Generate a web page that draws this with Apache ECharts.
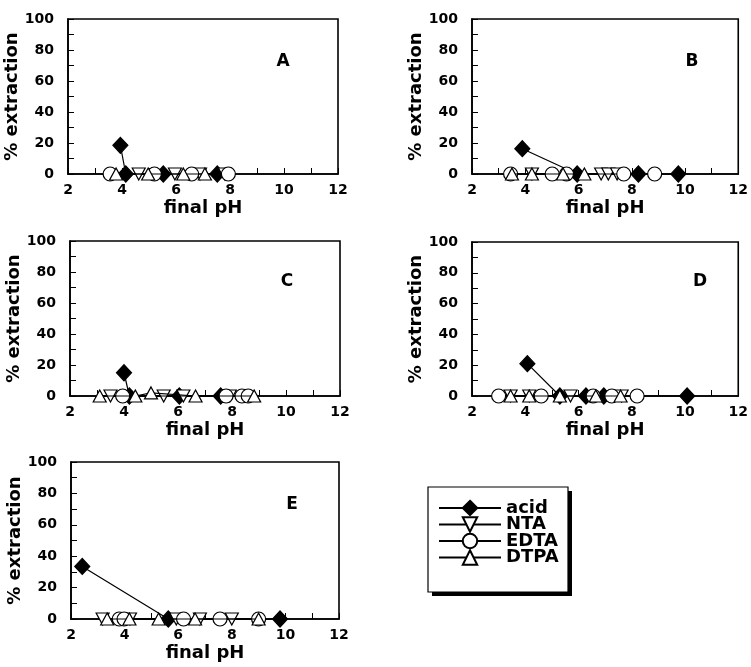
<!DOCTYPE html>
<html>
<head>
<meta charset="utf-8">
<script src="https://cdn.jsdelivr.net/npm/echarts@6/dist/echarts.min.js"></script>
<style>
html,body{margin:0;padding:0;background:#fff;}
#chart{width:751px;height:667px;}
</style>
</head>
<body>
<div id="chart"></div>
<script>
// ---- data (final pH, % extraction) ----
const panelLabels = ['A', 'B', 'C', 'D', 'E'];
const seriesNames = ['acid', 'NTA', 'EDTA', 'DTPA'];
const xTickMin = 2, xTickMax = 12, xTickStep = 2;
const yTickMin = 0, yTickMax = 100, yTickStep = 20;
const xAxisName = 'final pH';
const yAxisName = '% extraction';

const A_acid = [[3.94, 18.5], [4.14, 0], [5.53, 0], [7.53, 0]];
const A_NTA  = [[4.62, 0], [5.96, 0], [6.89, 0], [7.81, 0]];
const A_EDTA = [[3.56, 0], [5.2, 0], [6.58, 0], [7.94, 0]];
const A_DTPA = [[3.78, 0], [4.97, 0], [6.27, 0], [7.07, 0]];

const B_acid = [[3.89, 16.3], [5.95, 0], [8.25, 0], [9.75, 0]];
const B_NTA  = [[4.25, 0], [6.85, 0], [7.12, 0], [7.45, 0]];
const B_EDTA = [[3.45, 0], [5.01, 0], [5.55, 0], [7.7, 0], [8.86, 0]];
const B_DTPA = [[3.5, 0], [4.25, 0], [5.42, 0], [6.22, 0]];

const C_acid = [[4.0, 15], [4.2, 0], [6.05, 0], [7.58, 0]];
const C_NTA  = [[3.5, 0], [5.47, 0], [6.2, 0], [7.92, 0]];
const C_EDTA = [[3.95, 0], [7.78, 0], [8.37, 0], [8.6, 0]];
const C_DTPA = [[3.1, 0], [4.42, 0], [5.0, 2], [6.65, 0], [8.82, 0]];

const D_acid = [[4.08, 21], [5.3, 0], [6.28, 0], [6.95, 0], [10.08, 0]];
const D_NTA  = [[3.45, 0], [4.15, 0], [5.7, 0], [7.62, 0]];
const D_EDTA = [[3.0, 0], [4.6, 0], [6.55, 0], [7.25, 0], [8.2, 0]];
const D_DTPA = [[3.45, 0], [4.15, 0], [5.3, 0], [6.65, 0], [7.58, 0]];

const E_acid = [[2.42, 33.5], [5.63, 0], [9.8, 0]];
const E_NTA  = [[3.18, 0], [4.2, 0], [5.93, 0], [6.81, 0], [8.0, 0]];
const E_EDTA = [[3.8, 0], [3.98, 0], [6.2, 0], [7.56, 0], [9.0, 0]];
const E_DTPA = [[3.35, 0], [4.18, 0], [5.27, 0], [6.63, 0], [9.0, 0]];

const panelData = [
  [A_acid, A_NTA, A_EDTA, A_DTPA],
  [B_acid, B_NTA, B_EDTA, B_DTPA],
  [C_acid, C_NTA, C_EDTA, C_DTPA],
  [D_acid, D_NTA, D_EDTA, D_DTPA],
  [E_acid, E_NTA, E_EDTA, E_DTPA]
];

// ---- layout / style ----
const FONT = 'DejaVu Sans';
const grids = [
  {left: 68,  top: 19,  width: 270, height: 155},
  {left: 472, top: 19,  width: 269, height: 155},
  {left: 70,  top: 241, width: 270, height: 155},
  {left: 472, top: 242, width: 269, height: 154},
  {left: 71,  top: 462, width: 268, height: 157}
];
const letterPos = [[283, 62], [692, 62], [287, 282], [700, 282], [292, 505]];
const legendBox = {x: 428, y: 487, w: 140, h: 105};

const symbolStyles = {
  acid: {symbol: 'diamond', symbolSize: [15, 16], symbolRotate: 0, fill: '#000'},
  NTA:  {symbol: 'triangle', symbolSize: [13, 12], symbolRotate: 180, fill: '#fff'},
  EDTA: {symbol: 'circle', symbolSize: 14, symbolRotate: 0, fill: '#fff'},
  DTPA: {symbol: 'triangle', symbolSize: [13, 12], symbolRotate: 0, fill: '#fff'}
};

const chart = echarts.init(document.getElementById('chart'), null, {renderer: 'canvas'});

const gridOpts = [], xAxes = [], yAxes = [], series = [];
const graphics = [
  {type: 'rect', z: 0, shape: {x: legendBox.x + 4, y: legendBox.y + 4, width: legendBox.w, height: legendBox.h},
   style: {fill: '#000'}},
  {type: 'rect', z: 1, shape: {x: legendBox.x, y: legendBox.y, width: legendBox.w, height: legendBox.h},
   style: {fill: '#fff', stroke: '#000', lineWidth: 1.2}}
];
grids.forEach((g, i) => {
  gridOpts.push(Object.assign({show: true, borderColor: '#000', borderWidth: 1.6, backgroundColor: 'transparent', containLabel: false}, g));
  xAxes.push({
    type: 'value', gridIndex: i, min: xTickMin, max: xTickMax, interval: xTickStep,
    name: xAxisName, nameLocation: 'middle', nameGap: 25,
    nameTextStyle: {fontFamily: FONT, fontWeight: 'bold', fontSize: 18, color: '#000'},
    axisLine: {show: true, onZero: false, lineStyle: {color: '#000', width: 1.6}},
    axisTick: {show: true, inside: true, length: 6, lineStyle: {color: '#000', width: 1}},
    minorTick: {show: true, splitNumber: 2, length: 6, lineStyle: {color: '#000', width: 1}},
    splitLine: {show: false},
    axisLabel: {fontFamily: FONT, fontWeight: 'bold', fontSize: 14, color: '#000', margin: 9}
  });
  yAxes.push({
    type: 'value', gridIndex: i, min: yTickMin, max: yTickMax, interval: yTickStep,
    name: yAxisName, nameLocation: 'middle', nameGap: 36, nameRotate: 90,
    nameTextStyle: {fontFamily: FONT, fontWeight: 'bold', fontSize: 18, color: '#000'},
    axisLine: {show: true, onZero: false, lineStyle: {color: '#000', width: 1.6}},
    axisTick: {show: true, inside: true, length: 6, lineStyle: {color: '#000', width: 1}},
    minorTick: {show: true, splitNumber: 2, length: 6, lineStyle: {color: '#000', width: 1}},
    splitLine: {show: false},
    axisLabel: {fontFamily: FONT, fontWeight: 'bold', fontSize: 14, color: '#000', margin: 14}
  });
  seriesNames.forEach((name, k) => {
    const st = symbolStyles[name];
    series.push({
      type: 'line', name: name, xAxisIndex: i, yAxisIndex: i,
      data: panelData[i][k],
      symbol: st.symbol, symbolSize: st.symbolSize, symbolRotate: st.symbolRotate,
      showAllSymbol: true, clip: false, animation: false,
      lineStyle: {color: '#000', width: 1.2},
      itemStyle: {color: st.fill, borderColor: '#000', borderWidth: 1.2, opacity: 1},
      emphasis: {disabled: true},
      z: 2 + k
    });
  });
  graphics.push({
    type: 'text', x: letterPos[i][0], y: letterPos[i][1], z: 5,
    style: {text: panelLabels[i], fontFamily: FONT, fontWeight: 'bold', fontSize: 17, fill: '#000', align: 'center', verticalAlign: 'middle'}
  });
});

chart.setOption({
  animation: false,
  backgroundColor: '#fff',
  grid: gridOpts,
  xAxis: xAxes,
  yAxis: yAxes,
  series: series,
  graphic: graphics,
  legend: {
    show: true, orient: 'vertical', left: 438, top: 499, z: 10,
    data: seriesNames,
    itemWidth: 62, itemHeight: 18, itemGap: -1.5,
    padding: 0,
    selectedMode: false,
    textStyle: {fontFamily: FONT, fontWeight: 'bold', fontSize: 18, color: '#000'}
  }
});
</script>
</body>
</html>
